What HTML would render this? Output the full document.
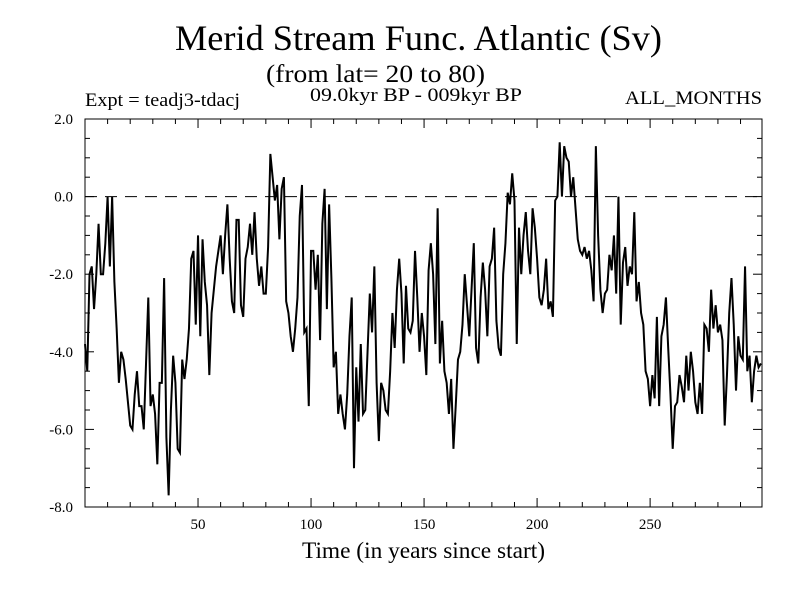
<!DOCTYPE html>
<html><head><meta charset="utf-8"><style>
html,body{margin:0;padding:0;background:#fff;}
svg{display:block;font-family:"Liberation Serif",serif;}
</style></head><body>
<svg id="chart" width="800" height="600" xmlns="http://www.w3.org/2000/svg">
<rect width="800" height="600" fill="#fff"/>
<text x="175" y="50" font-size="36" textLength="487" lengthAdjust="spacingAndGlyphs">Merid Stream Func. Atlantic (Sv)</text>
<text x="266" y="82" font-size="25" textLength="219" lengthAdjust="spacingAndGlyphs">(from lat= 20 to 80)</text>
<text x="85" y="106" font-size="19" textLength="155" lengthAdjust="spacingAndGlyphs">Expt = teadj3-tdacj</text>
<text x="310" y="101" font-size="19" textLength="212" lengthAdjust="spacingAndGlyphs">09.0kyr BP - 009kyr BP</text>
<text x="625" y="104" font-size="19" textLength="137" lengthAdjust="spacingAndGlyphs">ALL_MONTHS</text>
<text x="302" y="558" font-size="23" textLength="243" lengthAdjust="spacingAndGlyphs">Time (in years since start)</text>
<g id="plot"></g>
</svg>
<script>
const yTicks = [2.0, 0.0, -2.0, -4.0, -6.0, -8.0];
const yTickLabels = ["2.0","0.0","-2.0","-4.0","-6.0","-8.0"];
const xTicks = [50, 100, 150, 200, 250];
const xTickLabels = ["50","100","150","200","250"];
const streamValues = [
-3.8,-4.5,-2.0,-1.8,-2.9,-2.0,-0.7,-2.0,-2.0,-1.2,0,-1.8,0,-2.2,-3.4,-4.8,-4.0,-4.2,-4.7,-5.3,
-5.9,-6.0,-5.1,-4.5,-5.4,-5.4,-6.0,-4.3,-2.6,-5.4,-5.1,-5.6,-6.9,-4.8,-4.8,-2.1,-6.2,-7.7,-5.5,-4.1,
-4.8,-6.5,-6.6,-4.2,-4.7,-4.2,-3.4,-1.6,-1.4,-3.3,-1.0,
-3.6,-1.1,-2.2,-2.8,-4.6,-3.0,-2.4,-1.8,-1.4,-1.0,-2.0,-1.0,-0.2,-1.6,-2.7,-3.0,-0.6,-0.6,-2.8,
-3.1,-1.6,-1.3,-0.7,-1.5,-0.4,-1.6,-2.3,-1.8,-2.5,-2.5,-1.3,1.1,0.5,-0.1,0.3,-1.1,0.2,0.5,-2.7,
-3.0,-3.6,-4.0,-3.4,-2.6,-0.5,0.3,-3.5,-3.4,-5.4,-1.4,
-1.4,-2.4,-1.5,-3.7,-0.7,0.2,-2.9,-0.2,-2.1,-4.4,-4.0,-5.6,-5.1,-5.6,-6.0,-5.1,-3.6,-2.6,-7.0,
-4.4,-5.8,-3.8,-5.6,-5.5,-4.0,-2.5,-3.5,-1.8,-4.8,-6.3,-4.8,-5.0,-5.5,-5.6,-4.5,-3.0,-3.9,-2.4,-1.6,
-2.5,-4.3,-2.3,-3.4,-3.5,-3.2,-1.4,-2.6,-4.0,-3.0,
-3.6,-4.6,-1.9,-1.2,-2.0,-3.8,-0.3,-4.3,-3.2,-4.5,-4.8,-5.6,-4.7,-6.5,-5.4,-4.2,-4.0,-3.3,-2.0,-2.8,
-3.6,-2.4,-1.2,-3.9,-4.3,-2.6,-1.7,-2.4,-3.6,-1.8,-1.6,-0.8,-3.2,-3.9,-4.1,-2.0,-1.2,0.1,-0.2,0.6,
-0.1,-3.8,-0.8,-2.0,-1.0,-0.4,-1.4,-2.0,-0.3,-0.8,
-1.6,-2.6,-2.8,-2.4,-1.6,-2.9,-2.7,-3.1,-0.1,0.0,1.4,0.0,1.3,1.0,0.9,0.0,0.5,-0.3,-1.1,-1.4,
-1.5,-1.3,-1.6,-1.4,-1.9,-2.7,1.3,-1.0,-2.4,-3.0,-2.5,-2.4,-1.5,-1.9,-1.0,-2.5,0.0,-3.3,-1.7,-1.3,
-2.3,-1.8,-2.0,-0.4,-2.7,-2.2,-3.0,-3.3,-4.5,
-4.7,-5.4,-4.6,-5.2,-3.1,-5.4,-3.6,-3.3,-2.6,-3.9,-5.1,-6.5,-5.4,-5.3,-4.6,-4.9,-5.3,-4.1,-5.0,-4.0,
-4.5,-5.3,-5.6,-4.8,-5.6,-3.3,-3.4,-4.0,-2.4,-3.4,-2.8,-3.5,-3.3,-3.7,-5.9,-4.6,-3.0,-2.1,-3.3,-5.0,
-3.6,-4.1,-4.2,-1.8,-4.5,-4.1,-5.3,-4.5,-4.1,-4.4,-4.3
];
const L=85,R=762,T=119,B=507, X0=0, X1=299.5, Y0=-8, Y1=2;
const xs=v=>L+(v-X0)/(X1-X0)*(R-L);
const ys=v=>B-(v-Y0)/(Y1-Y0)*(B-T);
const NS="http://www.w3.org/2000/svg";
const g=document.getElementById('plot');
function mk(t,a){const e=document.createElementNS(NS,t);for(const k in a)e.setAttribute(k,a[k]);g.appendChild(e);return e;}
let z=mk('line',{x1:L,x2:R,y1:ys(0),y2:ys(0),stroke:'#000','stroke-width':1,'stroke-dasharray':'12,8'});


let d=streamValues.map((v,i)=>(i?'L':'M')+xs(i).toFixed(2)+','+ys(v).toFixed(2)).join('');
let p=mk('path',{d:d,fill:'none',stroke:'#000','stroke-width':2,'stroke-linejoin':'miter'});


let f=mk('rect',{x:L,y:T,width:R-L,height:B-T,fill:'none',stroke:'#000','stroke-width':1});


for(let v=Y0;v<=Y1+0.001;v+=0.5){
  const major=Math.abs(v/2-Math.round(v/2))<1e-6;
  const len=major?9:5;const y=ys(v);
  let a=mk('line',{x1:L,x2:L+len,y1:y,y2:y,stroke:'#000'});
  
  
  let b=mk('line',{x1:R-len,x2:R,y1:y,y2:y,stroke:'#000'});
  
  
}
yTicks.forEach((v,i)=>{
  let t=mk('text',{x:73,y:ys(v)+5,'font-size':15,'text-anchor':'end'});
  t.textContent=yTickLabels[i];
  
  
});
for(let v=10;v<X1;v+=10){
  const major=v%50===0;const len=major?9:5;const x=xs(v);
  let a=mk('line',{x1:x,x2:x,y1:B,y2:B-len,stroke:'#000'});
  
  
  let b=mk('line',{x1:x,x2:x,y1:T,y2:T+len,stroke:'#000'});
  
  
}
xTicks.forEach((v,i)=>{
  let t=mk('text',{x:xs(v),y:529,'font-size':15,'text-anchor':'middle'});
  t.textContent=xTickLabels[i];
  
  
});
</script>
</body></html>
